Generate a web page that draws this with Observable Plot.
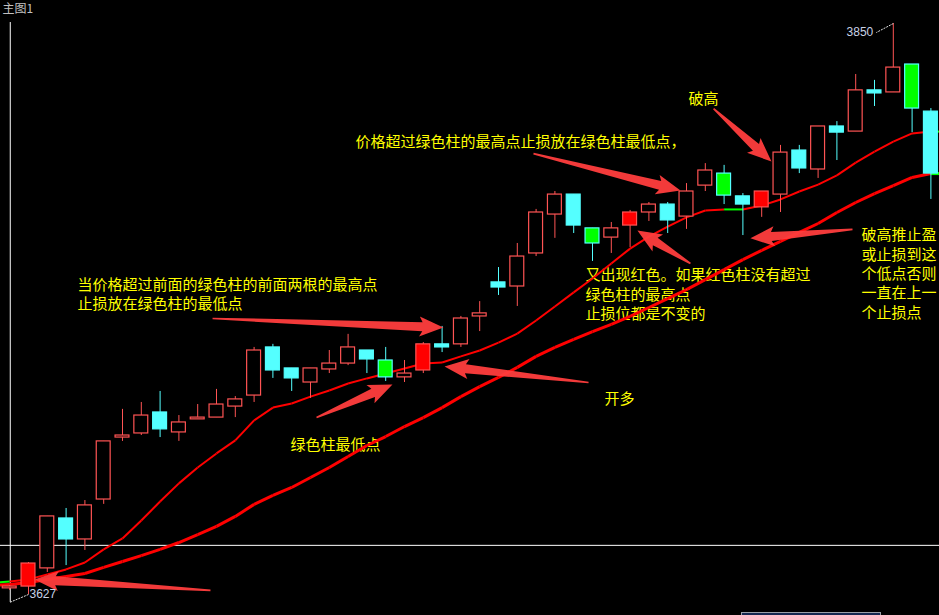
<!DOCTYPE html>
<html><head><meta charset="utf-8">
<script src="https://cdn.jsdelivr.net/npm/d3@7"></script>
<script src="https://cdn.jsdelivr.net/npm/@observablehq/plot@0.6"></script>
<style>
html,body{margin:0;padding:0;background:#000;overflow:hidden;}
#wrap{position:relative;width:939px;height:615px;overflow:hidden;background:#000;}
#bar{position:absolute;left:741px;top:612px;width:138px;height:4px;background:#142850;border:1px solid #9aa0a8;}
</style></head>
<body><div id="wrap"><div id="bar"></div></div>
<script>
// ---- candles (index 1..50) ----
const opens  = [3629.4,3630.1,3637.2,3656.7,3648.5,3664.1,3688.3,3689.9,3698.1,3690.3,
                3695.4,3696.1,3700.4,3704.7,3723.5,3715.3,3709.8,3714.9,3717.2,3722.3,
                3718.4,3711.8,3714.5,3724.7,3724.7,3735.6,3748.9,3747.3,3760.2,3775.4,
                3783.2,3770.0,3766.4,3771.1,3776.2,3779.3,3774.6,3786.7,3791.4,3782.5,
                3778.2,3783.2,3800.4,3793.0,3809.8,3807.8,3823.9,3823.1,3834.0,3815.6];
const highs  = [3630.5,3639.5,3657.5,3660.6,3663.7,3686.8,3699.3,3702.0,3706.3,3696.9,
                3701.2,3707.1,3704.3,3723.5,3724.7,3715.3,3715.3,3722.3,3728.6,3722.3,
                3723.5,3718.4,3725.4,3731.7,3735.6,3741.4,3754.7,3764.1,3777.4,3784.4,
                3783.2,3770.0,3772.3,3777.0,3780.1,3780.1,3787.5,3795.3,3794.6,3783.6,
                3784.4,3802.4,3802.4,3809.8,3811.7,3830.1,3827.8,3850.0,3834.0,3816.8];
const lows   = [3628.6,3627.0,3635.6,3638.3,3644.2,3662.2,3686.8,3689.1,3688.3,3686.8,
                3695.4,3696.1,3696.1,3702.0,3711.4,3706.3,3703.6,3713.3,3716.4,3713.3,
                3710.2,3709.8,3713.3,3721.5,3723.5,3729.7,3743.8,3739.5,3759.0,3766.1,
                3768.0,3757.1,3760.2,3762.5,3772.7,3768.0,3769.6,3784.4,3779.3,3767.2,
                3774.3,3776.2,3791.4,3789.5,3796.5,3807.8,3817.6,3823.1,3807.4,3781.3];
const closes = [3630.1,3639.1,3657.5,3648.5,3661.8,3686.8,3689.1,3696.9,3691.5,3694.2,
                3696.1,3701.2,3703.2,3722.3,3714.5,3711.4,3715.3,3717.2,3723.5,3718.8,
                3711.8,3713.3,3724.7,3723.5,3734.8,3736.8,3746.9,3759.0,3776.2,3783.2,
                3771.1,3764.1,3770.0,3776.2,3779.3,3773.1,3784.4,3792.6,3782.8,3779.3,
                3784.4,3799.6,3793.4,3809.8,3807.4,3823.9,3822.7,3832.8,3816.8,3791.4];
// u = rising (hollow), d = falling (cyan), U = marked red, D = marked green
const kinds  = ["u","U","u","d","u","u","u","u","d","u",
                "u","u","u","u","d","d","u","u","u","d",
                "D","u","U","d","u","u","d","u","u","u",
                "d","D","u","U","u","d","u","u","D","d",
                "U","u","d","u","d","u","d","u","D","d"];

// ---- moving averages (index 0..51) ----
const fastMA = [3631.5,3632.1,3632.9,3634.8,3636.8,3639.5,3644.6,3648.9,3655.9,3663.3,
                3670.4,3676.6,3682.1,3687.2,3695.0,3700.0,3701.6,3704.3,3706.7,3709.4,
                3711.4,3713.3,3715.3,3717.2,3717.6,3720.0,3722.3,3725.4,3728.9,3734.0,
                3739.5,3745.0,3750.4,3756.3,3762.1,3766.8,3770.7,3774.3,3777.0,3777.4,
                3777.4,3778.9,3781.3,3784.4,3787.1,3790.7,3795.7,3800.0,3803.9,3807.1,
                3807.8,3807.8];
const slowMA = [3630.5,3630.9,3631.7,3632.9,3634.0,3635.2,3637.6,3639.9,3642.2,3644.6,
                3647.3,3650.4,3653.6,3657.5,3662.2,3665.7,3668.8,3672.7,3676.6,3680.9,
                3685.2,3688.7,3692.6,3696.1,3700.0,3704.3,3708.2,3711.8,3715.7,3720.0,
                3723.5,3726.6,3729.7,3732.5,3735.6,3739.1,3742.6,3746.1,3750.0,3753.9,
                3757.8,3761.4,3764.9,3768.4,3771.9,3776.2,3780.1,3783.6,3786.7,3789.9,
                3791.4,3791.4];
const fastGreenSegs = [0, 39, 50];
const slowGreenSegs = [50];

// ---- crosshair ----
const crossIndex = 1.03;
const crossPrice = 3646.2;
const crossTop = 3850.4, crossBottom = 3623.9;

// ---- arrows (tail -> tip) ----
const arrowTailX = [11.68, 11.79, 17.32, 31.79, 28.86, 37.21, 38.44, 45.83];
const arrowTailY = [3628.6, 3734.8, 3696.1, 3709.8, 3799.2, 3756.3, 3816.8, 3769.6];
const arrowTipX  = [2.32, 24.07, 21.36, 24.13, 36.68, 34.39, 41.52, 40.40];
const arrowTipY  = [3632.9, 3731.3, 3709.0, 3716.1, 3784.8, 3769.2, 3796.1, 3766.1];

// ---- notes ----
const noteText = [
  "当价格超过前面的绿色柱的前面两根的最高点\n止损放在绿色柱的最低点",
  "价格超过绿色柱的最高点止损放在绿色柱最低点，",
  "破高",
  "又出现红色。如果红色柱没有超过\n绿色柱的最高点\n止损位都是不变的",
  "开多",
  "绿色柱最低点",
  "破高推止盈\n或止损到这\n个低点否则\n一直在上一\n个止损点"
];
const noteX = [4.61, 19.39, 37.11, 31.63, 32.64, 15.94, 46.31];
const noteY = [3744.6, 3804.3, 3821.1, 3744.6, 3704.0, 3686.0, 3752.6];
const title = "主图1";

// ---- scales ----
const W = 939, H = 615;
const xDomain = [0.5106, 50.4574];
const yDomain = [3618.8, 3859.0];
const kx = W / (xDomain[1] - xDomain[0]);
const ky = H / (yDomain[1] - yDomain[0]);

const upColor = "#ff5454", downColor = "#54ffff";
const candles = opens.map((o, k) => ({i: k + 1, open: o, high: highs[k], low: lows[k], close: closes[k], kind: kinds[k]}));
const fillOf = k => k === "u" ? "#000" : k === "d" ? downColor : k === "U" ? "#ff0000" : "#00ff00";
const strokeOf = k => (k === "u" || k === "U") ? upColor : downColor;

const segs = [];
for (let j = 0; j < fastMA.length - 1; j++) {
  segs.push({x1: j, y1: slowMA[j], x2: j + 1, y2: slowMA[j + 1], c: slowGreenSegs.includes(j) ? "#00ff00" : "#ff0000", w: 3});
}
for (let j = 0; j < fastMA.length - 1; j++) {
  segs.push({x1: j, y1: fastMA[j], x2: j + 1, y2: fastMA[j + 1], c: fastGreenSegs.includes(j) ? "#00ff00" : "#ff0000", w: 2});
}

function arrowPoly(id, tx, ty, hx, hy) {
  const X = x => (x - xDomain[0]) * kx, Y = y => (yDomain[1] - y) * ky;
  const ax = X(tx), ay = Y(ty), bx = X(hx), by = Y(hy);
  const dx = bx - ax, dy = by - ay, L = Math.hypot(dx, dy);
  const ux = dx / L, uy = dy / L, nx = -uy, ny = ux;
  const headLen = 21, headW = 10, shaftW = 4.5, tailW = 0.8;
  const cx = bx - ux * headLen, cy = by - uy * headLen;
  const pts = [
    [ax + nx * tailW, ay + ny * tailW],
    [cx + nx * shaftW, cy + ny * shaftW],
    [cx - ux * 3 + nx * headW, cy - uy * 3 + ny * headW],
    [bx, by],
    [cx - ux * 3 - nx * headW, cy - uy * 3 - ny * headW],
    [cx - nx * shaftW, cy - ny * shaftW],
    [ax - nx * tailW, ay - ny * tailW]
  ];
  return pts.map(([px, py]) => ({id, x: xDomain[0] + px / kx, y: yDomain[1] - py / ky}));
}
const arrowPts = arrowTailX.flatMap((t, k) => arrowPoly(k, t, arrowTailY[k], arrowTipX[k], arrowTipY[k]));

const notes = noteText.map((t, k) => ({t, x: noteX[k], y: noteY[k]}));

// extreme labels
const hiK = d3.maxIndex(highs), loK = d3.minIndex(lows);
const hiPt = {x: hiK + 1, y: highs[hiK]};
const loPt = {x: loK + 1, y: lows[loK]};
const extremeLinks = [
  {x1: hiPt.x, y1: hiPt.y, x2: hiPt.x - 17 / kx, y2: hiPt.y - 9 / ky},
  {x1: loPt.x, y1: loPt.y, x2: loPt.x - 19 / kx, y2: loPt.y - 8 / ky}
];
const hiLabel = [{x: hiPt.x - 20 / kx, y: hiPt.y - 9 / ky, t: String(Math.round(hiPt.y))}];
const loLabel = [{x: loPt.x + 1 / kx, y: loPt.y + 0.5 / ky, t: String(Math.round(loPt.y))}];

const cjk = "'Noto Sans CJK SC', 'Noto Sans', sans-serif";
const num = "'Liberation Sans', Arial, sans-serif";

const chart = Plot.plot({
  width: W, height: H,
  marginTop: 0, marginRight: 0, marginBottom: 0, marginLeft: 0,
  style: {background: "#000", color: "#fff", overflow: "hidden"},
  x: {type: "linear", domain: xDomain, axis: null},
  y: {type: "linear", domain: yDomain, axis: null},
  marks: [
    Plot.ruleY([crossPrice], {stroke: "#ffffff", strokeWidth: 1}),
    Plot.ruleX([crossIndex], {y1: crossTop, y2: crossBottom, stroke: "#ffffff", strokeWidth: 1}),
    Plot.text(notes, {x: "x", y: "y", text: "t", textAnchor: "start", lineAnchor: "middle",
      lineHeight: 1.29, fill: "#ffff00", fontSize: 15, fontFamily: cjk}),
    Plot.link(segs, {x1: "x1", y1: "y1", x2: "x2", y2: "y2", stroke: d => d.c, strokeWidth: d => d.w, clip: true}),
    Plot.ruleX(candles, {x: "i", y1: "low", y2: "high", stroke: d => strokeOf(d.kind), strokeWidth: 1}),
    Plot.rect(candles, {x1: d => d.i - 0.37, x2: d => d.i + 0.37,
      y1: d => Math.min(d.open, d.close), y2: d => Math.max(d.open, d.close),
      fill: d => fillOf(d.kind), stroke: d => strokeOf(d.kind), strokeWidth: 1.2, clip: true}),
    Plot.line(arrowPts, {x: "x", y: "y", z: "id", fill: "#ff3d3d", stroke: "none", fillOpacity: 0.95, curve: "linear-closed"}),
    Plot.link(extremeLinks, {x1: "x1", y1: "y1", x2: "x2", y2: "y2", stroke: "#e0e0e0", strokeWidth: 1, strokeDasharray: "2,1"}),
    Plot.text(hiLabel, {x: "x", y: "y", text: "t", textAnchor: "end", fill: "#c8d2e6", fontSize: 12, fontFamily: num}),
    Plot.text(loLabel, {x: "x", y: "y", text: "t", textAnchor: "start", fill: "#c8d2e6", fontSize: 12, fontFamily: num}),
    Plot.text([title], {frameAnchor: "top-left", dx: 2, dy: 9, lineAnchor: "middle", textAnchor: "start", fill: "#c0c0c0",
      fontSize: 12, fontFamily: cjk})
  ]
});
document.getElementById("wrap").prepend(chart);
</script>
</body></html>
